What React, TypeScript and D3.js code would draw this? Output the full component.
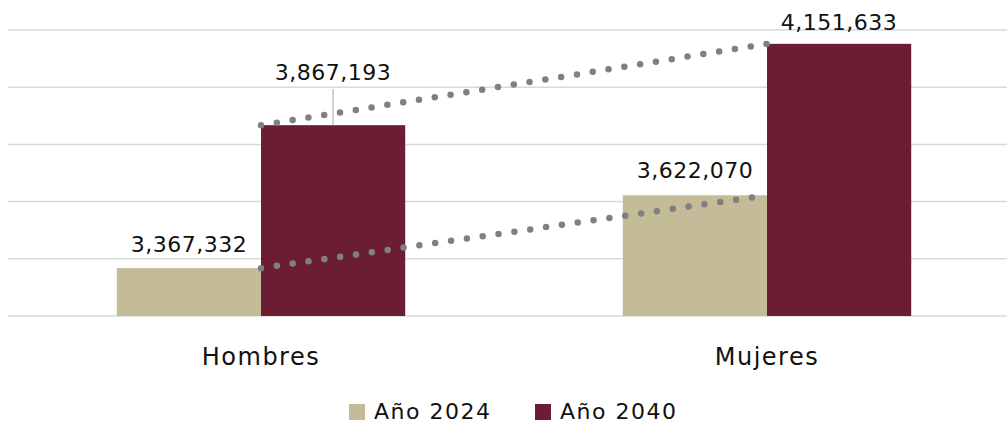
import React, { useEffect, useRef } from "react";
import * as d3 from "d3";

const categories = ["Hombres", "Mujeres"];
const seriesNames = ["Año 2024", "Año 2040"];
const values2024 = [3367332, 3622070];
const values2040 = [3867193, 4151633];
const yTicks = [3200000, 3400000, 3600000, 3800000, 4000000, 4200000];

const COLORS = ["#c4bb98", "#6b1d33"];
const W = 1007;
const H = 423;
const FONT = "'DejaVu Sans', sans-serif";

const App = () => {
  const svgRef = useRef<SVGSVGElement>(null);

  useEffect(() => {
    const svg = d3.select(svgRef.current);
    svg.selectAll("*").remove();

    const x = d3.scaleBand().domain(categories).range([8, 1020]).paddingInner(0.43).paddingOuter(0.215);
    const xs = d3.scaleBand().domain(seriesNames).range([0, x.bandwidth()]);
    const y = d3.scaleLinear().domain([3200000, 4200000]).range([316, 30]);

    // grid
    svg
      .append("g")
      .selectAll("line")
      .data(yTicks)
      .join("line")
      .attr("x1", 8)
      .attr("x2", W)
      .attr("y1", (d) => y(d))
      .attr("y2", (d) => y(d))
      .attr("stroke", "#d9d9d9")
      .attr("stroke-width", 1.5);

    const series = [values2024, values2040];
    series.forEach((vals, si) => {
      svg
        .append("g")
        .selectAll("rect")
        .data(vals)
        .join("rect")
        .attr("x", (d, i) => x(categories[i])! + xs(seriesNames[si])!)
        .attr("y", (d) => y(d))
        .attr("width", xs.bandwidth())
        .attr("height", (d) => y(3200000) - y(d))
        .attr("fill", COLORS[si]);
    });

    // dotted trend lines
    const lineX = (i: number) => x(categories[i])! + xs(seriesNames[1])!;
    series.forEach((vals) => {
      svg
        .append("line")
        .attr("x1", lineX(0))
        .attr("y1", y(vals[0]))
        .attr("x2", lineX(1))
        .attr("y2", y(vals[1]))
        .attr("stroke", "#808080")
        .attr("stroke-width", 6.5)
        .attr("stroke-linecap", "round")
        .attr("stroke-dasharray", "0 16");
    });

    // leader line for Hombres 2040 label
    const lx = x(categories[0])! + xs(seriesNames[1])! + 72;
    svg
      .append("line")
      .attr("x1", lx)
      .attr("x2", lx)
      .attr("y1", 89)
      .attr("y2", y(values2040[0]))
      .attr("stroke", "#b3b3b3")
      .attr("stroke-width", 1.2);

    const fmt = d3.format(",");
    const labels = [
      { v: values2024[0], cx: x(categories[0])! + xs(seriesNames[0])! + xs.bandwidth() / 2, by: 252 },
      { v: values2040[0], cx: lx, by: 80 },
      { v: values2024[1], cx: x(categories[1])! + xs(seriesNames[0])! + xs.bandwidth() / 2, by: 178 },
      { v: values2040[1], cx: x(categories[1])! + xs(seriesNames[1])! + xs.bandwidth() / 2, by: 30 },
    ];
    svg
      .append("g")
      .selectAll("text")
      .data(labels)
      .join("text")
      .attr("x", (d) => d.cx)
      .attr("y", (d) => d.by)
      .attr("text-anchor", "middle")
      .attr("font-family", FONT)
      .attr("font-size", 22)
      .attr("letter-spacing", 0.5)
      .attr("fill", "#111")
      .text((d) => fmt(d.v));

    // category labels
    svg
      .append("g")
      .selectAll("text")
      .data(categories)
      .join("text")
      .attr("x", (d) => x(d)! + x.bandwidth() / 2)
      .attr("y", 365)
      .attr("text-anchor", "middle")
      .attr("font-family", FONT)
      .attr("font-size", 24)
      .attr("letter-spacing", 1.5)
      .attr("fill", "#111")
      .text((d) => d);

    // legend
    const legendX = [349, 535];
    const lg = svg
      .append("g")
      .selectAll("g")
      .data(seriesNames)
      .join("g")
      .attr("transform", (d, i) => `translate(${legendX[i]},0)`);
    lg.append("rect")
      .attr("x", 0)
      .attr("y", 404)
      .attr("width", 16)
      .attr("height", 16)
      .attr("fill", (d, i) => COLORS[i]);
    lg.append("text")
      .attr("x", 25)
      .attr("y", 419)
      .attr("font-family", FONT)
      .attr("font-size", 22)
      .attr("letter-spacing", 1.5)
      .attr("fill", "#111")
      .text((d) => d);
  }, []);

  return <svg ref={svgRef} width={W} height={H} style={{ position: "absolute", left: 0, top: 0 }}></svg>;
};

export default App;
